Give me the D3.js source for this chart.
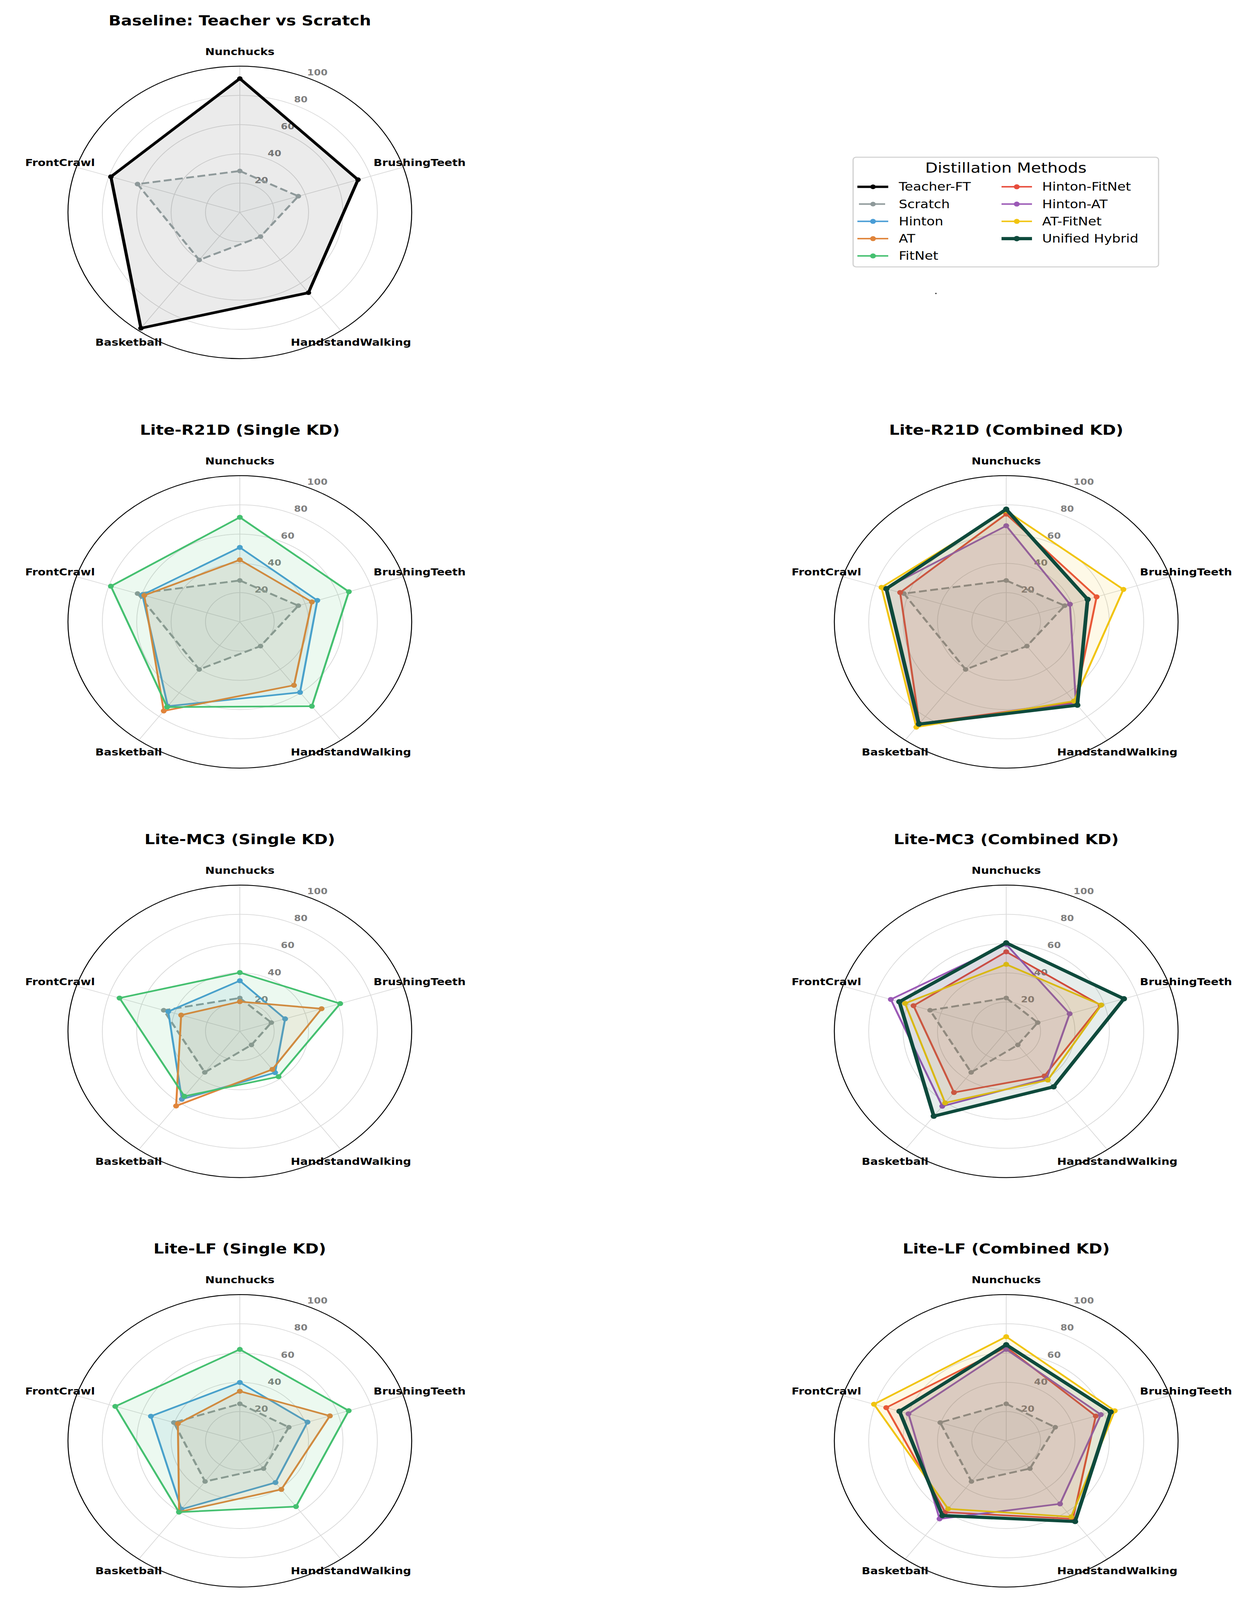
<!DOCTYPE html>
<html>
<head>
<meta charset="utf-8">
<script src="https://cdn.jsdelivr.net/npm/d3@7"></script>
<style>
  html, body { margin: 0; padding: 0; background: #ffffff; overflow: hidden; }
  svg { display: block; font-family: "DejaVu Sans", sans-serif; }
</style>
</head>
<body>
<script>
// ---------------- DATA ----------------
const categories = ["Nunchucks", "BrushingTeeth", "HandstandWalking", "Basketball", "FrontCrawl"];
const tickValues = [20, 40, 60, 80, 100];

const legendCol1 = ["Teacher-FT", "Scratch", "Hinton", "AT", "FitNet"];
const legendCol2 = ["Hinton-FitNet", "Hinton-AT", "AT-FitNet", "Unified Hybrid"];

const teacherFT   = [91.5, 72.3, 67.9, 97.9, 78.9];

const scratchR21D = [28.3, 35.8, 20.5, 40.2, 62.6];
const scratchMC3  = [22.8, 19.3, 11.5, 34.7, 46.6];
const scratchLF   = [25.3, 30.0, 23.5, 34.4, 40.4];

const hintonR21D  = [50.9, 47.4, 59.6, 71.3, 59.6];
const atR21D      = [42.4, 44.1, 53.6, 75.3, 58.5];
const fitnetR21D  = [71.5, 66.7, 71.3, 72.0, 78.9];

const hintonFitnetR21D = [73.7, 55.3, 68.0, 86.0, 64.9];
const hintonAtR21D     = [65.7, 39.0, 69.0, 87.5, 74.0];
const atFitnetR21D     = [76.0, 71.7, 67.0, 89.0, 76.3];
const unifiedR21D      = [77.0, 49.8, 70.4, 86.4, 73.3];

const hintonMC3  = [34.6, 27.7, 34.9, 57.4, 43.8];
const atMC3      = [20.3, 50.0, 32.2, 63.1, 35.9];
const fitnetMC3  = [40.2, 61.4, 38.3, 54.9, 73.6];

const hintonFitnetMC3 = [54.4, 57.8, 37.8, 51.7, 56.7];
const hintonAtMC3     = [59.5, 38.8, 40.0, 63.3, 70.6];
const atFitnetMC3     = [45.8, 58.2, 41.2, 60.5, 61.9];
const unifiedMC3      = [60.5, 72.0, 46.9, 71.7, 65.4];

const hintonLF  = [39.9, 41.4, 35.3, 57.8, 54.4];
const atLF      = [33.9, 55.1, 41.1, 60.1, 37.9];
const fitnetLF  = [62.5, 66.6, 55.6, 60.3, 76.2];

const hintonFitnetLF = [64.0, 54.8, 66.0, 60.4, 73.4];
const hintonAtLF     = [62.5, 57.9, 53.3, 66.0, 59.8];
const atFitnetLF     = [71.2, 66.4, 64.3, 57.5, 80.9];
const unifiedLF      = [65.7, 63.9, 68.2, 63.2, 65.3];

const panelTitles = [
  "Baseline: Teacher vs Scratch",
  "Lite-R21D (Single KD)", "Lite-R21D (Combined KD)",
  "Lite-MC3 (Single KD)",  "Lite-MC3 (Combined KD)",
  "Lite-LF (Single KD)",   "Lite-LF (Combined KD)"
];

// ---------------- STYLE ----------------
const styles = {
  "Teacher-FT":     { color: "#000000", lw: 8,   r: 7,   fill: 0.08 },
  "Scratch":        { color: "#8e999a", lw: 5.5, r: 7,   fill: 0.10, dash: "20,9" },
  "Hinton":         { color: "#4a9dd6", lw: 5,   r: 7.5, fill: 0.10 },
  "AT":             { color: "#e0843a", lw: 5,   r: 7.5, fill: 0.10 },
  "FitNet":         { color: "#45c070", lw: 5,   r: 7.5, fill: 0.10 },
  "Hinton-FitNet":  { color: "#e74c3c", lw: 5,   r: 7.5, fill: 0.10 },
  "Hinton-AT":      { color: "#9b59b6", lw: 5,   r: 7.5, fill: 0.10 },
  "AT-FitNet":      { color: "#f1c40f", lw: 5,   r: 7.5, fill: 0.10 },
  "Unified Hybrid": { color: "#0e4a3c", lw: 9.5, r: 8,   fill: 0.10 }
};

const W = 3195, H = 4814;
const colX = [614, 2576];
const rowY = [639, 1871, 3103, 4335];
const R = 440;

const panels = [
  { t: 0, c: 0, rw: 0, s: [["Teacher-FT", teacherFT], ["Scratch", scratchR21D]] },
  { t: 1, c: 0, rw: 1, s: [["Scratch", scratchR21D], ["Hinton", hintonR21D], ["AT", atR21D], ["FitNet", fitnetR21D]] },
  { t: 2, c: 1, rw: 1, s: [["Scratch", scratchR21D], ["Hinton-FitNet", hintonFitnetR21D], ["Hinton-AT", hintonAtR21D], ["AT-FitNet", atFitnetR21D], ["Unified Hybrid", unifiedR21D]] },
  { t: 3, c: 0, rw: 2, s: [["Scratch", scratchMC3], ["Hinton", hintonMC3], ["AT", atMC3], ["FitNet", fitnetMC3]] },
  { t: 4, c: 1, rw: 2, s: [["Scratch", scratchMC3], ["Hinton-FitNet", hintonFitnetMC3], ["Hinton-AT", hintonAtMC3], ["AT-FitNet", atFitnetMC3], ["Unified Hybrid", unifiedMC3]] },
  { t: 5, c: 0, rw: 3, s: [["Scratch", scratchLF], ["Hinton", hintonLF], ["AT", atLF], ["FitNet", fitnetLF]] },
  { t: 6, c: 1, rw: 3, s: [["Scratch", scratchLF], ["Hinton-FitNet", hintonFitnetLF], ["Hinton-AT", hintonAtLF], ["AT-FitNet", atFitnetLF], ["Unified Hybrid", unifiedLF]] }
];

// fit the full 3195x4814 drawing into the actual viewport
const vw = window.innerWidth || W, vh = window.innerHeight || H;

const svg = d3.select("body").append("svg")
  .attr("width", vw).attr("height", vh)
  .attr("viewBox", `0 0 ${W} ${H}`)
  .attr("preserveAspectRatio", "none");
svg.append("rect").attr("width", W).attr("height", H).attr("fill", "#ffffff");

const rScale = d3.scaleLinear().domain([0, 100]).range([0, R]);
const angle = d3.scaleLinear().domain([0, categories.length]).range([0, 2 * Math.PI]);

const line = d3.lineRadial()
  .angle((d, i) => angle(i))
  .radius(d => rScale(d))
  .curve(d3.curveLinearClosed);

function px(v, i) { return rScale(v) * Math.sin(angle(i)); }
function py(v, i) { return -rScale(v) * Math.cos(angle(i)); }

panels.forEach(p => {
  const cx = colX[p.c], cy = rowY[p.rw];
  const g = svg.append("g").attr("transform", `translate(${cx},${cy})`);

  svg.append("text")
    .attr("x", cx).attr("y", cy - 563)
    .attr("text-anchor", "middle")
    .attr("font-size", 41.7).attr("font-weight", "bold")
    .attr("fill", "#000")
    .text(panelTitles[p.t]);

  g.selectAll("circle.grid").data(tickValues.filter(v => v < 100)).enter()
    .append("circle").attr("class", "grid")
    .attr("r", d => rScale(d))
    .attr("fill", "none").attr("stroke", "#dadada").attr("stroke-width", 2);

  g.selectAll("line.spoke").data(categories).enter()
    .append("line").attr("class", "spoke")
    .attr("x1", 0).attr("y1", 0)
    .attr("x2", (d, i) => px(100, i)).attr("y2", (d, i) => py(100, i))
    .attr("stroke", "#dadada").attr("stroke-width", 2);

  g.append("circle").attr("r", rScale(100))
    .attr("fill", "none").attr("stroke", "#000").attr("stroke-width", 2.5);

  const la = 22.5 * Math.PI / 180;
  g.selectAll("text.rt").data(tickValues).enter()
    .append("text").attr("class", "rt")
    .attr("x", d => rScale(d) * Math.sin(la) + 4)
    .attr("y", d => -rScale(d) * Math.cos(la) - 15)
    .attr("dy", "0.35em")
    .attr("text-anchor", "start")
    .attr("font-size", 25).attr("font-weight", "bold")
    .attr("fill", "#808080")
    .text(d => d);

  g.selectAll("text.cat").data(categories).enter()
    .append("text").attr("class", "cat")
    .attr("x", (d, i) => px(110, i))
    .attr("y", (d, i) => py(110, i))
    .attr("dy", "0.35em")
    .attr("text-anchor", "middle")
    .attr("font-size", 29).attr("font-weight", "bold")
    .attr("fill", "#000")
    .text(d => d);

  p.s.forEach(([name, vals]) => {
    const st = styles[name];
    const sg = g.append("g");
    sg.append("path").attr("d", line(vals))
      .attr("fill", st.color).attr("fill-opacity", st.fill)
      .attr("stroke", "none");
    sg.append("path").attr("d", line(vals))
      .attr("fill", "none")
      .attr("stroke", st.color).attr("stroke-width", st.lw)
      .attr("stroke-linejoin", "round")
      .attr("stroke-dasharray", st.dash || null);
    sg.selectAll("circle").data(vals).enter().append("circle")
      .attr("cx", (d, i) => px(d, i)).attr("cy", (d, i) => py(d, i))
      .attr("r", st.r).attr("fill", st.color);
  });
});

// ---------------- LEGEND ----------------
const lg = svg.append("g");
lg.append("rect")
  .attr("x", 2184).attr("y", 473).attr("width", 782).attr("height", 330)
  .attr("rx", 8).attr("ry", 8)
  .attr("fill", "#ffffff").attr("fill-opacity", 0.8)
  .attr("stroke", "#d0d0d0").attr("stroke-width", 3);
lg.append("text")
  .attr("x", 2575).attr("y", 505).attr("dy", "0.35em")
  .attr("text-anchor", "middle")
  .attr("font-size", 41.7).attr("fill", "#000")
  .text("Distillation Methods");

const rowsY = [562, 614, 666, 718, 770];
function legendItem(name, k, x0, x1, xm, xt) {
  const st = styles[name];
  const y = rowsY[k];
  const solidScratch = name === "Scratch";
  lg.append("line")
    .attr("x1", solidScratch ? x0 + 4 : x0).attr("x2", solidScratch ? x1 - 8 : x1)
    .attr("y1", y).attr("y2", y)
    .attr("stroke", st.color)
    .attr("stroke-width", name === "Teacher-FT" ? 7 : (name === "Unified Hybrid" ? 9.5 : 4.5));
  lg.append("circle").attr("cx", xm).attr("cy", y).attr("r", st.r).attr("fill", st.color);
  lg.append("text").attr("x", xt).attr("y", y).attr("dy", "0.35em")
    .attr("font-size", 34.5).attr("fill", "#000").text(name);
}
legendCol1.forEach((n, k) => legendItem(n, k, 2195, 2274, 2235, 2301));
legendCol2.forEach((n, k) => legendItem(n, k, 2564, 2642, 2603, 2668));

svg.append("circle").attr("cx", 2396).attr("cy", 883).attr("r", 2).attr("fill", "#333");
</script>
</body>
</html>
